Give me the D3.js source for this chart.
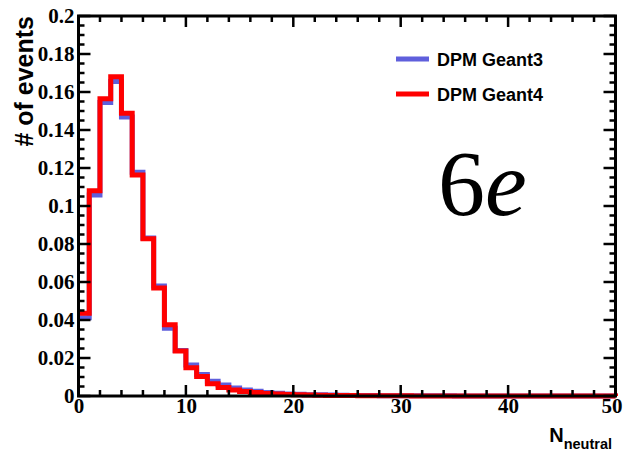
<!DOCTYPE html>
<html><head><meta charset="utf-8">
<script src="https://cdn.jsdelivr.net/npm/d3@7"></script>
<style>body{margin:0;background:#fff}svg{display:block}</style>
</head><body>
<script>
// ---- data ----
const binEdgesStart = 0, binWidth = 1, nBins = 50;
const geant3 = [0.0412,0.1058,0.1545,0.1655,0.1468,0.1177,0.0832,0.0579,0.0357,0.0240,
  0.0163,0.0113,0.0078,0.0058,0.0042,0.0032,0.0025,0.0019,0.0014,0.0011,
  0.0009,0.0007,0.0006,0.0005,0.0004,0.0003,0.00025,0.0002,0.00018,0.00015,
  0.00012,0.0001,0.0001,0.00008,0.00008,0.00006,0.00005,0.00005,0.00004,0.00004,
  0.00003,0.00003,0.00002,0.00002,0.00002,0.00004,0.00002,0.00001,0.00001,0.00001];
const geant4 = [0.0435,0.1080,0.1565,0.1680,0.1488,0.1163,0.0828,0.0568,0.0375,0.0237,
  0.0149,0.0102,0.0065,0.0045,0.0032,0.0024,0.0018,0.0013,0.0010,0.0008,
  0.0006,0.0005,0.0004,0.0003,0.00025,0.0002,0.00016,0.00013,0.0001,0.0001,
  0.00008,0.00006,0.00006,0.00005,0.00004,0.00004,0.00003,0.00003,0.00002,0.00002,
  0.00002,0.00002,0.00001,0.00001,0.00001,0.00001,0.00001,0.00001,0.00001,0.00001];
const seriesNames = ["DPM Geant3","DPM Geant4"];
const seriesColors = ["#5f5fdc","#ff0000"];
const xTicks = [0,10,20,30,40,50];
const yTicks = [0,0.02,0.04,0.06,0.08,0.1,0.12,0.14,0.16,0.18,0.2];
const yTickLabels = ["0","0.02","0.04","0.06","0.08","0.1","0.12","0.14","0.16","0.18","0.2"];

// ---- layout ----
const W = 623, H = 454;
const L = 78.5, R = 615.5, T = 16, B = 396;
const svg = d3.select("body").append("svg").attr("width", W).attr("height", H);
const x = d3.scaleLinear().domain([0, 50]).range([L, R]);
const y = d3.scaleLinear().domain([0, 0.2]).range([B, T]);

function histPath(vals) {
  let p = d3.path();
  p.moveTo(x(binEdgesStart), y(vals[0]));
  vals.forEach((v, i) => {
    const x0 = binEdgesStart + i * binWidth;
    p.lineTo(x(x0), y(v));
    p.lineTo(x(x0 + binWidth), y(v));
  });
  p.lineTo(x(binEdgesStart + nBins * binWidth), y(0));
  return p.toString();
}

[geant3, geant4].forEach((vals, k) => {
  svg.append("path").attr("d", histPath(vals)).attr("fill", "none")
    .attr("stroke", seriesColors[k]).attr("stroke-width", 5)
    .attr("stroke-linejoin", "miter").attr("stroke-linecap", "butt");
});

// ---- axes ----
const serif = "Liberation Serif, Tinos, Times New Roman, DejaVu Serif, serif";
const sans = "Liberation Sans, Arimo, Arial, sans-serif";
const xMinor = d3.range(0, 50.001, 2);
const yMinor = d3.range(0, 0.2001, 0.005);

const xAxisB = d3.axisBottom(x).tickValues(xTicks).tickSize(0).tickFormat(d3.format("d"));
const gx = svg.append("g").attr("transform", `translate(0,${B})`).call(xAxisB)
  .attr("font-family", serif).attr("font-size", 21).attr("font-weight", "bold");
gx.select(".domain").remove();
gx.selectAll("text").style("font-family", serif).style("font-weight", "bold")
  .style("font-size", "21px").attr("fill", "#000").attr("dy", "0.71em").attr("y", 2);
gx.selectAll(".tick").filter(d => d === 50).select("text")
  .attr("text-anchor", "end").attr("x", W - R - 1);

const yAxisL = d3.axisLeft(y).tickValues(yTicks).tickSize(0).tickFormat((d, i) => yTickLabels[i]);
const gy = svg.append("g").attr("transform", `translate(${L},0)`).call(yAxisL)
  .attr("font-family", serif).attr("font-size", 21).attr("font-weight", "bold");
gy.select(".domain").remove();
gy.selectAll("text").style("font-family", serif).style("font-weight", "bold")
  .style("font-size", "21px").attr("fill", "#000").attr("x", -4);

// ticks on all four sides
const tk = svg.append("g").attr("stroke", "#000").attr("stroke-width", 2.5);
xMinor.forEach(v => {
  const major = xTicks.includes(v);
  const len = major ? 11 : 6;
  tk.append("line").attr("x1", x(v)).attr("x2", x(v)).attr("y1", B).attr("y2", B - len);
  tk.append("line").attr("x1", x(v)).attr("x2", x(v)).attr("y1", T).attr("y2", T + len);
});
yMinor.forEach((v, i) => {
  const major = i % 4 === 0;
  const len = major ? 12 : 6;
  tk.append("line").attr("x1", L).attr("x2", L + len).attr("y1", y(v)).attr("y2", y(v));
  tk.append("line").attr("x1", R).attr("x2", R - len).attr("y1", y(v)).attr("y2", y(v));
});

// frame
svg.append("rect").attr("x", L).attr("y", T).attr("width", R - L).attr("height", B - T)
  .attr("fill", "none").attr("stroke", "#000").attr("stroke-width", 3);

// titles
svg.append("text").attr("transform", `translate(33,${T}) rotate(-90)`)
  .attr("text-anchor", "end").style("font-family", sans).style("font-weight", "bold")
  .style("font-size", "25px").text("# of events");

const xt = svg.append("text").attr("x", 612).attr("y", 442).attr("text-anchor", "end")
  .style("font-family", sans).style("font-weight", "bold");
xt.append("tspan").style("font-size", "20px").text("N");
xt.append("tspan").style("font-size", "14.5px").attr("dy", 7).text("neutral");

// legend
seriesNames.forEach((nm, k) => {
  const ly = 59 + k * 35;
  svg.append("line").attr("x1", 396).attr("x2", 429).attr("y1", ly).attr("y2", ly)
    .attr("stroke", seriesColors[k]).attr("stroke-width", 5);
  svg.append("text").attr("x", 437).attr("y", ly + 6.5).style("font-family", sans)
    .style("font-weight", "bold").style("font-size", "18px").text(nm);
});

// big label
const big = svg.append("text").attr("x", 438).attr("y", 215)
  .style("font-family", serif).style("font-size", "94px");
big.append("tspan").text("6");
big.append("tspan").style("font-style", "italic").text("e");
</script>
</body></html>
